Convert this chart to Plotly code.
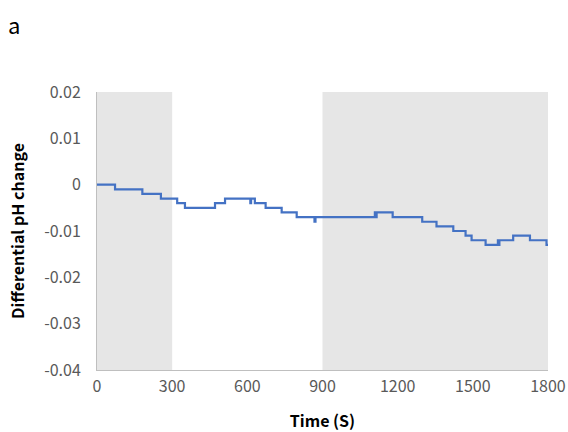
import plotly.graph_objects as go

# Readings (time in s, differential pH change)
time_s = [0, 72, 181, 255, 320, 351, 471, 511, 612, 615, 619, 630, 673, 737, 797,
          868, 872, 877, 1109, 1112, 1116, 1180, 1298, 1355, 1422, 1471, 1495,
          1551, 1600, 1603, 1606, 1661, 1728, 1794, 1800]
ph_change = [0.000, -0.001, -0.002, -0.003, -0.004, -0.005, -0.004, -0.003, -0.004, -0.003,
             -0.003, -0.004, -0.005, -0.006, -0.007,
             -0.008, -0.007, -0.007, -0.006, -0.007, -0.006, -0.007, -0.008, -0.009, -0.010,
             -0.011, -0.012, -0.013, -0.012, -0.013, -0.012, -0.011, -0.012, -0.013, -0.013]

# Shaded periods (s)
shade_start = [0, 900]
shade_end = [300, 1800]

x_ticks = [0, 300, 600, 900, 1200, 1500, 1800]
y_ticks = [0.02, 0.01, 0, -0.01, -0.02, -0.03, -0.04]
y_tick_text = ["0.02", "0.01", "0", "-0.01", "-0.02", "-0.03", "-0.04"]

fig = go.Figure()
fig.add_trace(go.Scatter(x=time_s, y=ph_change, mode="lines", line_shape="hv",
                         line=dict(color="#4472C4", width=2.2), showlegend=False,
                         hoverinfo="skip"))

for s, e in zip(shade_start, shade_end):
    fig.add_shape(type="rect", xref="x", yref="y", x0=s, x1=e, y0=-0.04, y1=0.02,
                  fillcolor="#E6E6E6", line_width=0, layer="below")

font_family = "Noto Sans CJK SC"
fig.update_layout(
    width=568, height=432,
    margin=dict(l=97, r=20, t=92, b=62),
    paper_bgcolor="white", plot_bgcolor="white",
    font=dict(family=font_family, size=16, color="#595959"),
    xaxis=dict(range=[0, 1800], tickvals=x_ticks, showgrid=False, zeroline=False,
               showline=True, linecolor="#BFBFBF", linewidth=1, ticks="",
               automargin=False, ticklabelstandoff=2,
               tickfont=dict(family=font_family, size=16, color="#595959"),
               title=dict(text="<b>Time (S)</b>", font=dict(family=font_family, size=16, color="black"),
                          standoff=22)),
    yaxis=dict(range=[-0.04, 0.02], tickvals=y_ticks, ticktext=y_tick_text, showgrid=False,
               zeroline=False, showline=True, linecolor="#BFBFBF", linewidth=1, ticks="",
               automargin=False, ticklabelstandoff=12,
               tickfont=dict(family=font_family, size=16, color="#595959"),
               title=dict(text="<b>Differential pH change</b>",
                          font=dict(family=font_family, size=16, color="black"),
                          standoff=15)),
    annotations=[dict(text="a", xref="paper", yref="paper", x=0, y=1, xanchor="left",
                      yanchor="top", showarrow=False,
                      font=dict(family=font_family, size=22, color="black"),
                      xshift=-91, yshift=86)],
)

fig.write_html("out.html", config={"displayModeBar": False},
               post_script="document.body.style.margin='0';document.body.style.overflow='hidden';")
